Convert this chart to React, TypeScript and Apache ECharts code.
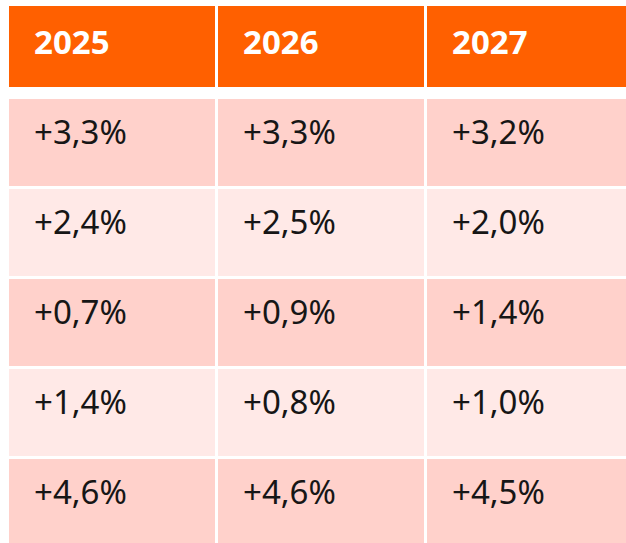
import React, { useEffect, useRef } from "react";
import * as echarts from "echarts";

const years = ["2025", "2026", "2027"];
const rowKeys = ["header", "r1", "r2", "r3", "r4", "r5"];
const values2025 = [3.3, 2.4, 0.7, 1.4, 4.6];
const values2026 = [3.3, 2.5, 0.9, 0.8, 4.6];
const values2027 = [3.2, 2.0, 1.4, 1.0, 4.5];
const columns = [values2025, values2026, values2027];

const HEADER_COLOR = "#FF6000";
const ODD_COLOR = "#FFD1CB";
const EVEN_COLOR = "#FFE9E7";
const FONT = "'Noto Sans', 'Open Sans', sans-serif";

function fmt(v: number): string {
  return (v >= 0 ? "+" : "") + v.toFixed(1).replace(".", ",") + "%";
}

export default function App() {
  const ref = useRef<HTMLDivElement>(null);
  useEffect(() => {
    if (!ref.current) return;
    const chart = echarts.init(ref.current, undefined, { renderer: "svg" });
    const data: any[] = [];
    years.forEach((y, c) => {
      data.push({ value: [c, 0], label: y });
      columns[c].forEach((v, i) => {
        data.push({ value: [c, i + 1], label: fmt(v) });
      });
    });
    chart.setOption({
      animation: false,
      backgroundColor: "#ffffff",
      grid: { left: 9, top: 9, width: 627, height: 540 },
      xAxis: { type: "category", data: years, show: false },
      yAxis: { type: "category", data: rowKeys, inverse: true, show: false },
      series: [
        {
          type: "custom",
          clip: false,
          data,
          renderItem: (params: any, api: any) => {
            const c = api.value(0);
            const r = api.value(1);
            const pt = api.coord([c, r]);
            const sz = api.size([1, 1]);
            const x0 = pt[0] - sz[0] / 2;
            const y0 = pt[1] - sz[1] / 2;
            const item = data[params.dataIndex];
            const isHeader = r === 0;
            const rect = isHeader
              ? { x: x0, y: y0 - 3, width: sz[0] - 3, height: sz[1] - 9 }
              : { x: x0, y: y0, width: sz[0] - 3, height: sz[1] - 3 };
            const fill = isHeader ? HEADER_COLOR : r % 2 === 1 ? ODD_COLOR : EVEN_COLOR;
            return {
              type: "group",
              children: [
                { type: "rect", shape: rect, style: { fill } },
                {
                  type: "text",
                  style: {
                    text: item.label,
                    x: x0 + 25,
                    y: y0 + 32,
                    fill: isHeader ? "#FFFFFF" : "#161616",
                    fontSize: 33,
                    fontWeight: isHeader ? "bold" : "normal",
                    fontFamily: FONT,
                    align: "left",
                    verticalAlign: "middle",
                  },
                },
              ],
            };
          },
        },
      ],
    });
    return () => chart.dispose();
  }, []);
  return (
    <div
      style={{
        position: "fixed",
        left: 0,
        top: 0,
        width: 626,
        height: 543,
        overflow: "hidden",
        background: "#ffffff",
      }}
    >
      <div ref={ref} style={{ width: 660, height: 580 }} />
    </div>
  );
}
